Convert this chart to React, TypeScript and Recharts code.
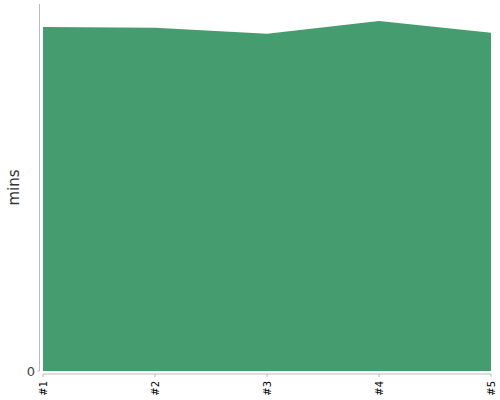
import React from 'react';
import { AreaChart, Area, XAxis, YAxis } from 'recharts';

const runs = ['#1', '#2', '#3', '#4', '#5'];
const minutes = [93.7, 93.5, 91.9, 95.4, 92.2];
const yTicks = [0];
const yMax = 100;

const data = runs.map((run, i) => ({ run, mins: minutes[i] }));

const RunTick = (props: any) => {
  const { x, y, payload } = props;
  return (
    <text
      x={0}
      y={0}
      transform={`translate(${x + 3.5},${y}) rotate(-90)`}
      textAnchor="end"
      fontSize={10}
      fontFamily="DejaVu Sans, sans-serif"
      fill="#000"
    >
      {payload.value}
    </text>
  );
};

export default function App() {
  return (
    <div style={{ width: 500, height: 400 }}>
      <style>{`
        body { margin: 0; }
        .recharts-yAxis { transform: translateX(-3.5px); }
        .recharts-xAxis { transform: translateY(3px); }
      `}</style>
      <AreaChart width={500} height={400} data={data} margin={{ top: 4, right: 9, left: 0, bottom: 3 }}>
        <XAxis
          dataKey="run"
          height={26}
          interval={0}
          stroke="#bbb"
          tickSize={3}
          tickMargin={7}
          tick={<RunTick />}
        />
        <YAxis
          width={43}
          domain={[0, yMax]}
          ticks={yTicks}
          stroke="#bbb"
          tickSize={2}
          tickMargin={6}
          tick={{ fill: '#444', fontSize: 13, fontFamily: 'DejaVu Sans, sans-serif' }}
          label={{
            value: 'mins',
            angle: -90,
            position: 'center',
            dx: -8,
            fill: '#333',
            fontSize: 15,
            fontFamily: 'DejaVu Sans, sans-serif',
          }}
        />
        <Area
          type="linear"
          dataKey="mins"
          stroke="none"
          fill="#459c6e"
          fillOpacity={1}
          isAnimationActive={false}
        />
      </AreaChart>
    </div>
  );
}
